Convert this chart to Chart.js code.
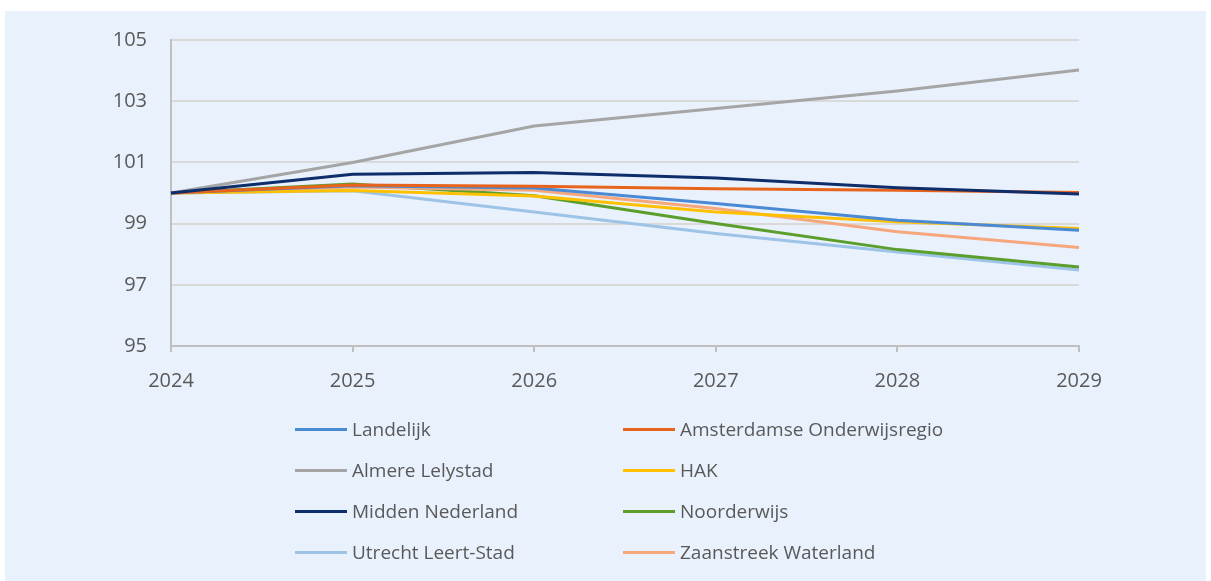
<!DOCTYPE html>
<html>
<head>
<meta charset="utf-8">
<script src="https://cdn.jsdelivr.net/npm/chart.js@4.4.1/dist/chart.umd.min.js"></script>
<style>
  html, body { margin: 0; padding: 0; background: #ffffff; }
  body { width: 1211px; height: 581px; position: relative; overflow: hidden; font-family: "Open Sans", sans-serif; }
  #bg { position: absolute; left: 5px; top: 11px; width: 1201px; height: 570px; background: #e9f1fd; }
  #wrap { position: absolute; left: 0; top: 0; width: 1211px; height: 581px; }
  #legend { position: absolute; left: 0; top: 0; width: 1211px; height: 581px; pointer-events: none; }
  .item { position: absolute; height: 24px; display: flex; align-items: center; }
  .swatch { width: 52px; height: 3px; margin-right: 5px; }
  .label { font-size: 19px; color: #595959; white-space: nowrap; line-height: 24px; }
</style>
</head>
<body>
<div id="bg"></div>
<div id="wrap"><canvas id="c" width="1211" height="581"></canvas></div>
<div id="legend"></div>
<script>
const years = ["2024", "2025", "2026", "2027", "2028", "2029"];
const seriesNames = ["Landelijk", "Amsterdamse Onderwijsregio", "Almere Lelystad", "HAK", "Midden Nederland", "Noorderwijs", "Utrecht Leert-Stad", "Zaanstreek Waterland"];
const landelijk   = [100, 100.24, 100.16, 99.66, 99.11, 98.78];
const amsterdam   = [100, 100.26, 100.22, 100.14, 100.09, 100.02];
const almere      = [100, 101.0, 102.19, 102.76, 103.33, 104.02];
const hak         = [100, 100.08, 99.9, 99.38, 99.06, 98.84];
const midden      = [100, 100.61, 100.67, 100.49, 100.17, 99.97];
const noorderwijs = [100, 100.29, 99.91, 99.0, 98.15, 97.58];
const utrecht     = [100, 100.07, 99.38, 98.68, 98.07, 97.48];
const zaanstreek  = [100, 100.2, 100.09, 99.49, 98.73, 98.22];
const yTicks = [95, 97, 99, 101, 103, 105];

const seriesData = [landelijk, amsterdam, almere, hak, midden, noorderwijs, utrecht, zaanstreek];
const colors = ["#4a8ad4", "#e8641c", "#a5a5a5", "#ffc000", "#0e2d6b", "#5c9e2c", "#9dc3e6", "#f7a77c"];
// draw order: lighter lines behind
const drawOrder = [2, 6, 5, 7, 3, 0, 1, 4];

const datasets = seriesNames.map((name, i) => ({
  label: name,
  data: seriesData[i],
  borderColor: colors[i],
  backgroundColor: colors[i],
  borderWidth: 3,
  pointRadius: 0,
  tension: 0,
  fill: false,
  order: drawOrder.length - drawOrder.indexOf(i)
}));

new Chart(document.getElementById("c"), {
  type: "line",
  data: { labels: years, datasets },
  options: {
    responsive: false,
    animation: false,
    devicePixelRatio: 1,
    layout: { padding: { left: 0, right: 132, top: 40, bottom: 185 } },
    plugins: { legend: { display: false }, tooltip: { enabled: false } },
    scales: {
      x: {
        offset: false,
        grid: { display: true, drawOnChartArea: false, drawTicks: true, tickLength: 6, color: "#bfbfbf", lineWidth: 2 },
        border: { display: true, color: "#bfbfbf", width: 2 },
        ticks: { color: "#595959", font: { family: "Open Sans", size: 20 }, padding: 17, maxRotation: 0 },
        afterFit: (s) => { s.height = 50; }
      },
      y: {
        min: 95, max: 105,
        afterBuildTicks: (s) => { s.ticks = yTicks.map(v => ({ value: v })); },
        grid: { color: "#d9d9d9", lineWidth: 2, drawTicks: false },
        border: { display: true, color: "#bfbfbf", width: 2 },
        ticks: { color: "#595959", font: { family: "Open Sans", size: 20 }, padding: 24 },
        afterFit: (s) => { s.width = 171; }
      }
    }
  }
});

// HTML legend built from the series arrays
const legend = document.getElementById("legend");
const colX = [295, 623];
const rowY = [429, 470, 511, 552];
seriesNames.forEach((name, i) => {
  const item = document.createElement("div");
  item.className = "item";
  item.style.left = colX[i % 2] + "px";
  item.style.top = (rowY[Math.floor(i / 2)] - 12) + "px";
  const sw = document.createElement("div");
  sw.className = "swatch";
  sw.style.background = colors[i];
  const lb = document.createElement("span");
  lb.className = "label";
  lb.textContent = name;
  item.appendChild(sw);
  item.appendChild(lb);
  legend.appendChild(item);
});
</script>
</body>
</html>
